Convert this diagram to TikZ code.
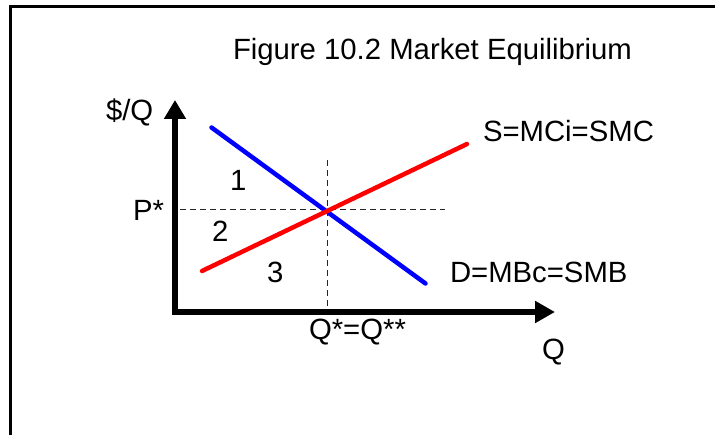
\documentclass[tikz,border=0pt]{standalone}
\usepackage{fontspec}
\setmainfont{Liberation Sans}
\usetikzlibrary{arrows.meta}
\begin{document}
\begin{tikzpicture}[x=1pt,y=-1pt,
  lbl/.style={anchor=base west,inner sep=0pt,outer sep=0pt,font=\fontsize{29.3}{34}\selectfont},
  frameline/.style={line width=3pt,line join=miter},
  axisline/.style={line width=5.5pt,line join=miter,{Triangle[length=19pt,width=21pt]}-{Triangle[length=20pt,width=21pt]}},
  curveline/.style={line width=4.5pt,line cap=round},
  guide/.style={line width=1pt,draw=black!85,dash pattern=on 6pt off 4pt}]
\useasboundingbox (0,0) rectangle (715,435);
% frame
\coordinate (fbl) at (10.5,435);
\coordinate (ftl) at (10.5,6.5);
\coordinate (ftr) at (715,6.5);
\draw[frameline] (fbl) -- (ftl) -- (ftr);
% axes
\coordinate (ytip) at (175,100);
\coordinate (origin) at (175,312);
\coordinate (xtip) at (555,312);
% guides
\coordinate (eq) at (327,210);
\coordinate (pstar) at (180,210);
\coordinate (hend) at (445,210);
\coordinate (vtop) at (327,160);
\coordinate (qstar) at (327,312);
\draw[guide] (pstar) -- (hend);
\draw[guide] (vtop) -- (qstar);
% demand
\coordinate (d1) at (211.5,127.5);
\coordinate (d2) at (425.5,283.5);
\draw[curveline,draw=blue] (d1) -- (d2);
% supply
\coordinate (s1) at (202,271);
\coordinate (s2) at (467,144);
\draw[curveline,draw=red] (s1) -- (s2);
\draw[axisline] (ytip) -- (origin) -- (xtip);
% labels
\node[lbl] (title) at (233,60) {Figure 10.2 Market Equilibrium};
\node[lbl] (ylab) at (106,121) {\$/Q};
\node[lbl] (slab) at (483,142) {S=MCi=SMC};
\node[lbl] (dlab) at (450,283) {D=MBc=SMB};
\node[lbl] (plab) at (133,221) {P*};
\node[lbl] (one) at (230,191) {1};
\node[lbl] (two) at (212,242) {2};
\node[lbl] (three) at (267,283) {3};
\node[lbl] (qlab) at (309,340) {Q*=Q**};
\node[lbl] (xlab) at (542,360) {Q};
\end{tikzpicture}
\end{document}
